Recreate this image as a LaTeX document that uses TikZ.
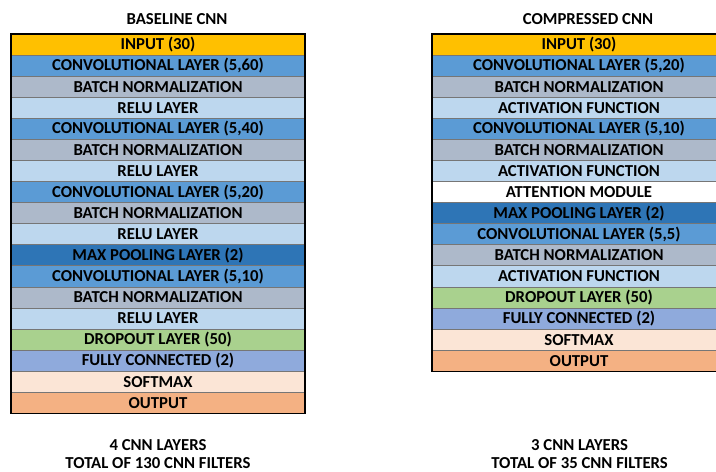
\documentclass[tikz,border=0pt]{standalone}
\usepackage{fontspec}
\setmainfont{Carlito}
\usetikzlibrary{positioning}

\definecolor{inputc}{HTML}{FFC000}
\definecolor{convc}{HTML}{5B9BD5}
\definecolor{bnc}{HTML}{ADB9CA}
\definecolor{reluc}{HTML}{BDD7EE}
\definecolor{poolc}{HTML}{2E75B6}
\definecolor{dropc}{HTML}{A9D18E}
\definecolor{fcc}{HTML}{8FAADC}
\definecolor{softc}{HTML}{FBE5D6}
\definecolor{outc}{HTML}{F4B183}
\definecolor{sepc}{HTML}{767676}

\tikzset{
    layer/.style={draw=sepc, line width=0.6pt, minimum width=7.35cm, minimum height=0.527cm,
        inner sep=0pt, outer sep=0pt, font=\fontsize{11.9}{14}\selectfont\bfseries},
    caption/.style={anchor=base, font=\fontsize{11.9}{14}\selectfont\bfseries}
}

\begin{document}
\begin{tikzpicture}

    \useasboundingbox (0,0) rectangle (17.9,11.775);
    \clip (0,0) rectangle (17.9,11.775);

    \coordinate (base) at (0.275,10.925);
    
    \coordinate (comp) at (10.8,10.925);

    % baseline network
    \node[caption] (basetitle) at (4.425,11.15) {BASELINE CNN};
    \node[layer, fill=inputc, anchor=north west] (b1) at (base) {INPUT (30)};
    \node[layer, fill=convc, below=0pt of b1] (b2) {CONVOLUTIONAL LAYER (5,60)};
    \node[layer, fill=bnc, below=0pt of b2] (b3) {BATCH NORMALIZATION};
    \node[layer, fill=reluc, below=0pt of b3] (b4) {RELU LAYER};
    \node[layer, fill=convc, below=0pt of b4] (b5) {CONVOLUTIONAL LAYER (5,40)};
    \node[layer, fill=bnc, below=0pt of b5] (b6) {BATCH NORMALIZATION};
    \node[layer, fill=reluc, below=0pt of b6] (b7) {RELU LAYER};
    \node[layer, fill=convc, below=0pt of b7] (b8) {CONVOLUTIONAL LAYER (5,20)};
    \node[layer, fill=bnc, below=0pt of b8] (b9) {BATCH NORMALIZATION};
    \node[layer, fill=reluc, below=0pt of b9] (b10) {RELU LAYER};
    \node[layer, fill=poolc, below=0pt of b10] (b11) {MAX POOLING LAYER (2)};
    \node[layer, fill=convc, below=0pt of b11] (b12) {CONVOLUTIONAL LAYER (5,10)};
    \node[layer, fill=bnc, below=0pt of b12] (b13) {BATCH NORMALIZATION};
    \node[layer, fill=reluc, below=0pt of b13] (b14) {RELU LAYER};
    \node[layer, fill=dropc, below=0pt of b14] (b15) {DROPOUT LAYER (50)};
    \node[layer, fill=fcc, below=0pt of b15] (b16) {FULLY CONNECTED (2)};
    \node[layer, fill=softc, below=0pt of b16] (b17) {SOFTMAX};
    \node[layer, fill=outc, below=0pt of b17] (b18) {OUTPUT};
    \draw[line width=0.9pt] (b1.north west) rectangle (b18.south east);

    \node[caption] (baselayers) at (3.95,0.52) {4 CNN LAYERS};
    \node[caption] (basefilters) at (3.95,0.06) {TOTAL OF 130 CNN FILTERS};

    % compressed network
    \node[caption] (comptitle) at (14.7,11.15) {COMPRESSED CNN};
    \node[layer, fill=inputc, anchor=north west] (c1) at (comp) {INPUT (30)};
    \node[layer, fill=convc, below=0pt of c1] (c2) {CONVOLUTIONAL LAYER (5,20)};
    \node[layer, fill=bnc, below=0pt of c2] (c3) {BATCH NORMALIZATION};
    \node[layer, fill=reluc, below=0pt of c3] (c4) {ACTIVATION FUNCTION};
    \node[layer, fill=convc, below=0pt of c4] (c5) {CONVOLUTIONAL LAYER (5,10)};
    \node[layer, fill=bnc, below=0pt of c5] (c6) {BATCH NORMALIZATION};
    \node[layer, fill=reluc, below=0pt of c6] (c7) {ACTIVATION FUNCTION};
    \node[layer, fill=white, below=0pt of c7] (c8) {ATTENTION MODULE};
    \node[layer, fill=poolc, below=0pt of c8] (c9) {MAX POOLING LAYER (2)};
    \node[layer, fill=convc, below=0pt of c9] (c10) {CONVOLUTIONAL LAYER (5,5)};
    \node[layer, fill=bnc, below=0pt of c10] (c11) {BATCH NORMALIZATION};
    \node[layer, fill=reluc, below=0pt of c11] (c12) {ACTIVATION FUNCTION};
    \node[layer, fill=dropc, below=0pt of c12] (c13) {DROPOUT LAYER (50)};
    \node[layer, fill=fcc, below=0pt of c13] (c14) {FULLY CONNECTED (2)};
    \node[layer, fill=softc, below=0pt of c14] (c15) {SOFTMAX};
    \node[layer, fill=outc, below=0pt of c15] (c16) {OUTPUT};
    \draw[line width=0.9pt] (c1.north west) rectangle (c16.south east);

    \node[caption] (complayers) at (14.49,0.52) {3 CNN LAYERS};
    \node[caption] (compfilters) at (14.49,0.06) {TOTAL OF 35 CNN FILTERS};

\end{tikzpicture}
\end{document}
